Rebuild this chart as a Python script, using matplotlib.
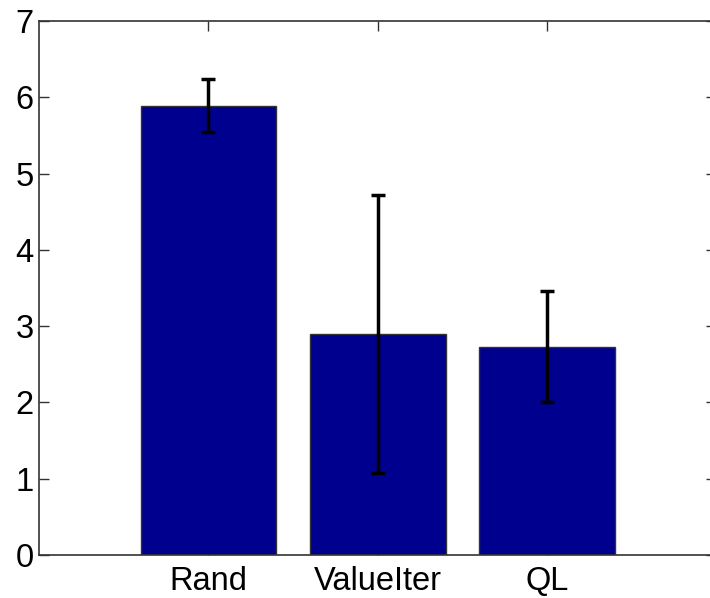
import matplotlib
matplotlib.use("Agg")
import matplotlib.pyplot as plt
import numpy as np

matplotlib.rcParams["font.family"] = ["Liberation Sans", "DejaVu Sans"]

categories = ["Rand", "ValueIter", "QL"]
means = [5.89, 2.90, 2.73]
errors = [0.35, 1.82, 0.73]

W, H = 710, 598
fig = plt.figure(figsize=(W / 100, H / 100), dpi=100)
# axes box runs a little past the right edge of the image, as in the original
ax = fig.add_axes([39 / W, (H - 555) / H, (716.5 - 39) / W, (555 - 21) / H])

x = np.arange(1, len(categories) + 1)
ax.bar(x, means, width=0.8, color="#00008F", edgecolor="#333333", linewidth=1.0, zorder=2)
ax.errorbar(x, means, yerr=errors, fmt="none", ecolor="black", elinewidth=2.5,
            capsize=5, capthick=2.5, zorder=3)

ax.set_xlim(0, 4)
ax.set_ylim(0, 7)
ax.set_xticks(x)
ax.set_xticklabels(categories)
ax.set_yticks(range(0, 8))
ax.tick_params(axis="both", direction="in", length=7, width=1, labelsize=23.5,
               top=True, right=True, color="#333333")
ax.tick_params(axis="y", pad=4)
ax.tick_params(axis="x", pad=8)
for s in ax.spines.values():
    s.set_linewidth(1.2)
    s.set_color("#333333")

fig.savefig("out.png", dpi=100)
